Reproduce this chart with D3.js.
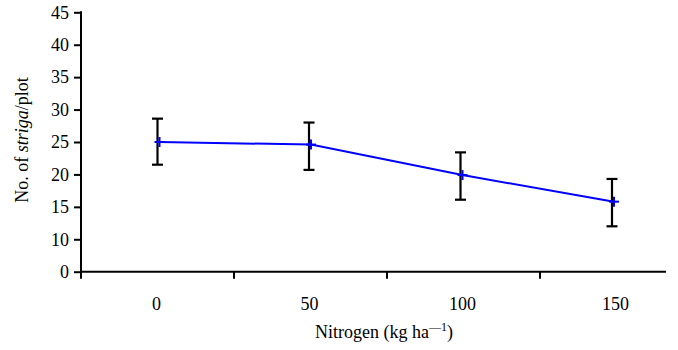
<!DOCTYPE html>
<html>
<head>
<meta charset="utf-8">
<script src="https://cdn.jsdelivr.net/npm/d3@7.9.0/dist/d3.min.js"></script>
<style>
  body { margin: 0; background: #fff; }
  svg text { font-family: "Liberation Serif", "Times New Roman", serif; }
</style>
</head>
<body>
<svg width="678" height="350"></svg>
<script>
// data
const nitrogen = ["0", "50", "100", "150"];
const strigaMean = [25.0, 24.6, 19.9, 15.8];
const strigaHigh = [28.6, 28.0, 23.4, 19.3];
const strigaLow = [21.5, 20.7, 16.1, 12.0];
// the original axis puts "0" where 5 would be
const yTickValues = [5, 10, 15, 20, 25, 30, 35, 40, 45];
const yTickLabels = ["0", "10", "15", "20", "25", "30", "35", "40", "45"];

const serif = "'Liberation Serif', 'Times New Roman', serif";
const svg = d3.select("svg");
const plotLeft = 81, plotTop = 12.3, plotBottom = 271.7;

let x = d3.scaleBand().domain(nitrogen).range([plotLeft, plotLeft + 4 * 153]);
let y = d3.scaleLinear().domain([5, 45]).range([plotBottom, plotTop]);

// y axis
let yAxis = svg.append("g")
  .attr("transform", `translate(${plotLeft},0)`)
  .call(d3.axisLeft(y).tickValues(yTickValues)
    .tickFormat((d, i) => yTickLabels[i]).tickSize(7).tickPadding(5));
yAxis.attr("font-family", null);
yAxis.select(".domain").attr("stroke-width", 2).attr("d", `M0,${plotTop - 1}V${plotBottom}`);
yAxis.selectAll(".tick line").attr("stroke-width", 2);
yAxis.selectAll("text")
  .attr("font-size", 18)
  .style("font-family", serif)
  .attr("fill", "#000");

// x axis, ticks sit between categories
let xAxis = svg.append("g").attr("transform", `translate(0,${plotBottom})`);
xAxis.append("line")
  .attr("x1", plotLeft - 1).attr("x2", 666)
  .attr("stroke", "#000").attr("stroke-width", 2);
xAxis.selectAll(".sep")
  .data(nitrogen)
  .join("line")
  .attr("x1", d => x(d)).attr("x2", d => x(d))
  .attr("y1", 0).attr("y2", 7)
  .attr("stroke", "#000").attr("stroke-width", 2);
xAxis.selectAll(".lab")
  .data(nitrogen)
  .join("text")
  .attr("x", d => x(d) + x.bandwidth() / 2 - 1)
  .attr("y", 38)
  .attr("text-anchor", "middle")
  .attr("font-size", 18)
  .style("font-family", serif)
  .text(d => d);

// error bars
let cx = (d, i) => x(nitrogen[i]) + x.bandwidth() / 2 - i * 1.5;
let bars = svg.append("g").attr("stroke", "#000").attr("stroke-width", 2.2);
nitrogen.forEach((n, i) => {
  let px = cx(n, i);
  bars.append("line").attr("x1", px).attr("x2", px)
    .attr("y1", y(strigaHigh[i])).attr("y2", y(strigaLow[i]));
  bars.append("line").attr("x1", px - 5.5).attr("x2", px + 5.5)
    .attr("y1", y(strigaHigh[i])).attr("y2", y(strigaHigh[i]));
  bars.append("line").attr("x1", px - 5.5).attr("x2", px + 5.5)
    .attr("y1", y(strigaLow[i])).attr("y2", y(strigaLow[i]));
});

// mean line
let line = d3.line()
  .x((d, i) => cx(nitrogen[i], i) + 2)
  .y(d => y(d));
svg.append("path")
  .datum(strigaMean)
  .attr("d", line)
  .attr("fill", "none")
  .attr("stroke", "#0000ff")
  .attr("stroke-width", 2);

// plus markers
let marks = svg.append("g").attr("stroke", "#0000ff").attr("stroke-width", 2);
strigaMean.forEach((v, i) => {
  let px = cx(nitrogen[i], i) + 2, py = y(v);
  marks.append("line").attr("x1", px - 5).attr("x2", px + 5).attr("y1", py).attr("y2", py);
  marks.append("line").attr("x1", px).attr("x2", px).attr("y1", py - 5).attr("y2", py + 5);
});

// axis titles
let yTitle = svg.append("text")
  .attr("transform", "translate(28,140) rotate(-90)")
  .attr("text-anchor", "middle")
  .attr("font-size", 18)
  .style("font-family", serif);
yTitle.append("tspan").text("No. of ");
yTitle.append("tspan").attr("font-style", "italic").text("striga");
yTitle.append("tspan").text("/plot");

let xTitle = svg.append("text")
  .attr("x", 384).attr("y", 338)
  .attr("text-anchor", "middle")
  .attr("font-size", 18)
  .style("font-family", serif);
xTitle.append("tspan").text("Nitrogen (kg ha");
xTitle.append("tspan").attr("font-size", 12).attr("dy", -7).text("\u2014" + "1");
xTitle.append("tspan").attr("dy", 7).text(")");
</script>
</body>
</html>
